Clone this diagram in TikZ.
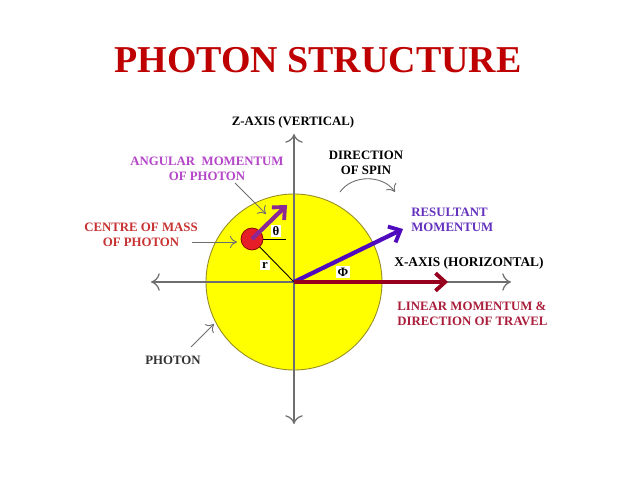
\documentclass[tikz,border=0pt]{standalone}
\usepackage{fontspec}
\setmainfont{Liberation Serif}
\usepackage{tikz}
\usetikzlibrary{arrows.meta}

\definecolor{titlered}{RGB}{190,0,0}
\definecolor{axisgray}{RGB}{110,110,110}
\definecolor{photonyellow}{RGB}{255,255,0}
\definecolor{photonrim}{RGB}{150,140,40}
\definecolor{linearred}{RGB}{150,0,30}
\definecolor{resultblue}{RGB}{80,10,190}
\definecolor{resultlbl}{RGB}{100,50,190}
\definecolor{angpurple}{RGB}{140,40,150}
\definecolor{anglbl}{RGB}{180,70,200}
\definecolor{masslbl}{RGB}{200,50,50}
\definecolor{linearlbl}{RGB}{170,30,60}
\definecolor{massred}{RGB}{230,30,40}

\tikzset{
  lbl/.style={font=\fontsize{7.3}{8.6}\selectfont\bfseries, inner sep=0pt, align=center},
  axis/.style={draw=axisgray, line width=0.7pt, -{To[length=5pt,width=10pt]}},
  pointer/.style={draw=axisgray, line width=0.5pt, -{To[length=4pt,width=7pt]}},
  heavy/.style={line width=2.4pt, -{Straight Barb[length=5.5pt,width=10pt,line width=2.2pt]}},
  tag/.style={font=\fontsize{7.3}{8.6}\selectfont\bfseries, fill=white, inner sep=1pt}
}

\begin{document}
\begin{tikzpicture}[x=0.02cm, y=-0.02cm]
  \useasboundingbox[fill=white] (0,0) rectangle (638,479);

  \node[lbl, text=titlered, font=\fontsize{21.6}{24}\selectfont\bfseries] (title) at (318,60) {PHOTON STRUCTURE};

  % photon body
  \coordinate (O) at (294,282);
  \draw[fill=photonyellow, draw=photonrim, line width=0.5pt] (O) circle[radius=88];

  % axes
  \coordinate (ztop) at (294,134);
  \coordinate (zbot) at (294,424);
  \coordinate (xleft) at (151,282);
  \coordinate (xright) at (511,282);
  \draw[axis] (O) -- (ztop);
  \draw[axis] (O) -- (zbot);
  \draw[axis] (O) -- (xleft);
  \draw[axis] (O) -- (xright);
  \node[lbl] (zlabel) at (293,122) {Z-AXIS (VERTICAL)};
  \node[lbl, anchor=west, font=\fontsize{7.6}{8.6}\selectfont\bfseries] (xlabel) at (394,263) {X-AXIS (HORIZONTAL)};

  % centre of mass and its vectors
  \coordinate (cm) at (252,239);
  \coordinate (thetaend) at (286,239);
  \coordinate (angtip) at (287,205);
  \draw[line width=0.5pt] (cm) -- (O);
  \draw[line width=0.5pt] (cm) -- (thetaend);
  \node[circle, fill=massred, draw=red!50!black, line width=0.4pt, minimum size=0.44cm, inner sep=0pt] (mass) at (cm) {};
  \draw[heavy, angpurple] (cm) -- (angtip);
  \node[tag] (theta) at (276,231) {θ};
  \node[tag] (rlabel) at (265,265) {r};

  % momentum vectors
  \coordinate (resulttip) at (403,229);
  \coordinate (lineartip) at (448,282);
  \draw[heavy, resultblue] (O) -- (resulttip);
  \draw[heavy, linearred] (O) -- (lineartip);
  \node[tag] (phi) at (343,272) {Φ};

  % spin
  \node[lbl] (spin) at (366,163) {DIRECTION\\OF SPIN};
  \coordinate (spinA) at (340,192);
  \coordinate (spinB) at (395,192);
  \draw[pointer] (spinA) to[bend left=55] (spinB);

  % labels
  \node[lbl, text=anglbl] (angular) at (207,169) {ANGULAR~~MOMENTUM\\OF PHOTON};
  \coordinate (angA) at (235,183);
  \coordinate (angB) at (266,214);
  \draw[pointer] (angA) -- (angB);

  \node[lbl, text=masslbl] (centre) at (141,235) {CENTRE OF MASS\\OF PHOTON};
  \coordinate (cmA) at (192,242);
  \coordinate (cmB) at (237,242);
  \draw[pointer] (cmA) -- (cmB);

  \node[lbl, text=resultlbl, align=left, anchor=west] (resultant) at (411,220) {RESULTANT\\MOMENTUM};
  \node[lbl, text=linearlbl, align=left, anchor=west] (linear) at (397,314) {LINEAR MOMENTUM \&\\DIRECTION OF TRAVEL};

  \node[lbl, text=black!80] (photon) at (173,360) {PHOTON};
  \coordinate (phA) at (191,347);
  \coordinate (phB) at (214,324);
  \draw[pointer] (phA) -- (phB);
\end{tikzpicture}
\end{document}
